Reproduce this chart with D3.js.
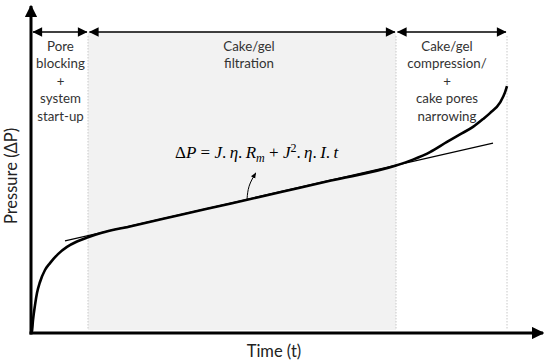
<!DOCTYPE html>
<html><head><meta charset="utf-8">
<script src="https://cdn.jsdelivr.net/npm/d3@7"></script>
<style>body{margin:0;background:#fff}svg{display:block}</style>
</head><body>
<script>
// ---- data ----
const timeValues     = [0, 0.2, 0.4, 0.8, 1.2, 1.8, 2.8, 3.8, 5.4, 7.2, 9.2, 11.4, 14, 20, 30, 40, 50, 60, 73, 76.4, 79.8, 83.2, 85.8, 88.4, 90.4, 91.8, 93.8, 94.8, 95.2];
const pressureValues = [0, 0.7, 4.3, 9.3, 13.3, 17, 21, 23.3, 26.3, 28.7, 30.5, 31.9, 33.3, 35.6, 39.4, 43.2, 47.0, 50.8, 55.8, 57.8, 60.3, 63.7, 66.2, 68.7, 71.3, 73.3, 76.8, 80.2, 82.3];
const tangentTime     = [6.8, 92.4];
const tangentPressure = [30.7, 63.3];
const phaseBounds = [0.2, 11.4, 73, 95.2];
const phaseLabels = [
  ["Pore", "blocking", "+", "system", "start-up"],
  ["Cake/gel", "filtration"],
  ["Cake/gel", "compression/", "+", "cake pores", "narrowing"]
];
const xLabel = "Time (t)";
const yLabel = "Pressure (ΔP)";

// ---- layout ----
const W = 550, H = 364;
const x = d3.scaleLinear().domain([0, 100]).range([31, 531]);
const y = d3.scaleLinear().domain([0, 100]).range([333, 33]);

const svg = d3.select("body").append("svg").attr("width", W).attr("height", H);
const defs = svg.append("defs");
defs.append("marker").attr("id", "bigArrow").attr("viewBox", "0 0 10 10")
  .attr("refX", 9).attr("refY", 5).attr("markerWidth", 4.2).attr("markerHeight", 4.2)
  .attr("markerUnits", "strokeWidth").attr("orient", "auto")
  .append("path").attr("d", "M0,0L10,5L0,10Z").attr("fill", "#000");
defs.append("marker").attr("id", "smallArrow").attr("viewBox", "0 0 10 10")
  .attr("refX", 9.5).attr("refY", 5).attr("markerWidth", 7).attr("markerHeight", 6)
  .attr("markerUnits", "strokeWidth").attr("orient", "auto-start-reverse")
  .append("path").attr("d", "M0,0L10,5L0,10Z").attr("fill", "#000");
defs.append("marker").attr("id", "tinyArrow").attr("viewBox", "0 0 10 10")
  .attr("refX", 8).attr("refY", 5).attr("markerWidth", 6).attr("markerHeight", 6)
  .attr("markerUnits", "strokeWidth").attr("orient", "auto")
  .append("path").attr("d", "M0,1L10,5L0,9Z").attr("fill", "#000");

const topY = 32, botY = 330;

// gray filtration region
svg.append("rect")
  .attr("x", x(phaseBounds[1])).attr("y", topY)
  .attr("width", x(phaseBounds[2]) - x(phaseBounds[1]))
  .attr("height", botY - topY)
  .attr("fill", "#f2f2f2");

// dotted separators
phaseBounds.slice(1).forEach(b => {
  svg.append("line").attr("x1", x(b)).attr("x2", x(b)).attr("y1", topY + 4).attr("y2", botY)
    .attr("stroke", "#c8c8c8").attr("stroke-width", 1).attr("stroke-dasharray", "1.5,1.5");
});

// top double arrows
for (let i = 0; i < 3; i++) {
  const a = x(phaseBounds[i]) + (i === 0 ? 1 : 1.5), b = x(phaseBounds[i + 1]) - 1;
  svg.append("line").attr("x1", a).attr("x2", b).attr("y1", topY).attr("y2", topY)
    .attr("stroke", "#000").attr("stroke-width", 1.6)
    .attr("marker-start", "url(#smallArrow)").attr("marker-end", "url(#smallArrow)");
}

// phase labels
const font = "Lato, 'Open Sans', sans-serif";
const lineYs = [46, 63, 81, 98, 116];
const centers = [(x(phaseBounds[0]) + x(phaseBounds[1])) / 2 + 0.5, 249, 447];
phaseLabels.forEach((lines, i) => {
  lines.forEach((t, j) => {
    svg.append("text").attr("x", centers[i]).attr("y", lineYs[j] + 4.5)
      .attr("text-anchor", "middle").attr("font-family", font).attr("font-size", 13.3)
      .attr("fill", "#333").text(t);
  });
});

// tangent line
svg.append("line")
  .attr("x1", x(tangentTime[0])).attr("y1", y(tangentPressure[0]))
  .attr("x2", x(tangentTime[1])).attr("y2", y(tangentPressure[1]))
  .attr("stroke", "#000").attr("stroke-width", 1.2);

// main curve
const pts = timeValues.map((t, i) => [t, pressureValues[i]]);
svg.append("path").datum(pts)
  .attr("d", d3.line().x(d => x(d[0])).y(d => y(d[1])).curve(d3.curveMonotoneX))
  .attr("fill", "none").attr("stroke", "#000").attr("stroke-width", 2.6);

// axes
svg.append("line").attr("x1", 31).attr("x2", 31).attr("y1", y(0) + 1.5).attr("y2", 6)
  .attr("stroke", "#000").attr("stroke-width", 3).attr("marker-end", "url(#bigArrow)");
svg.append("line").attr("x1", 29.5).attr("x2", 543).attr("y1", y(0)).attr("y2", y(0))
  .attr("stroke", "#000").attr("stroke-width", 3).attr("marker-end", "url(#bigArrow)");

// axis labels
svg.append("text").attr("x", 274).attr("y", 357).attr("text-anchor", "middle")
  .attr("font-family", font).attr("font-size", 16.5).attr("fill", "#222").text(xLabel);
svg.append("text").attr("transform", "translate(17,176) rotate(-90)").attr("text-anchor", "middle")
  .attr("font-family", font).attr("font-size", 16.5).attr("fill", "#222").text(yLabel);

// annotation arrow
const annoPts = [[43.2, 44.3], [43.4, 49], [44.9, 53.2]];
svg.append("path").datum(annoPts)
  .attr("d", d3.line().x(d => x(d[0])).y(d => y(d[1])).curve(d3.curveBasis))
  .attr("fill", "none").attr("stroke", "#000").attr("stroke-width", 1)
  .attr("marker-end", "url(#tinyArrow)");

// formula
const f = svg.append("text").attr("x", 175).attr("y", 158)
  .attr("font-family", "'Liberation Serif', 'DejaVu Serif', serif").attr("font-size", 17).attr("fill", "#000");
const sp = "\u2009";
f.append("tspan").text("Δ");
f.append("tspan").attr("font-style", "italic").text("P");
f.append("tspan").text(" = ");
f.append("tspan").attr("font-style", "italic").text("J");
f.append("tspan").text("." + sp);
f.append("tspan").attr("font-style", "italic").text("η");
f.append("tspan").text("." + sp);
f.append("tspan").attr("font-style", "italic").text("R");
f.append("tspan").attr("font-style", "italic").attr("font-size", 12).attr("dy", 3.5).text("m");
f.append("tspan").attr("dy", -3.5).text(" + ");
f.append("tspan").attr("font-style", "italic").text("J");
f.append("tspan").attr("font-size", 12).attr("dy", -6.5).text("2");
f.append("tspan").attr("dy", 6.5).text("." + sp);
f.append("tspan").attr("font-style", "italic").text("η");
f.append("tspan").text("." + sp);
f.append("tspan").attr("font-style", "italic").text("I");
f.append("tspan").text("." + sp);
f.append("tspan").attr("font-style", "italic").text("t");
</script>
</body></html>
